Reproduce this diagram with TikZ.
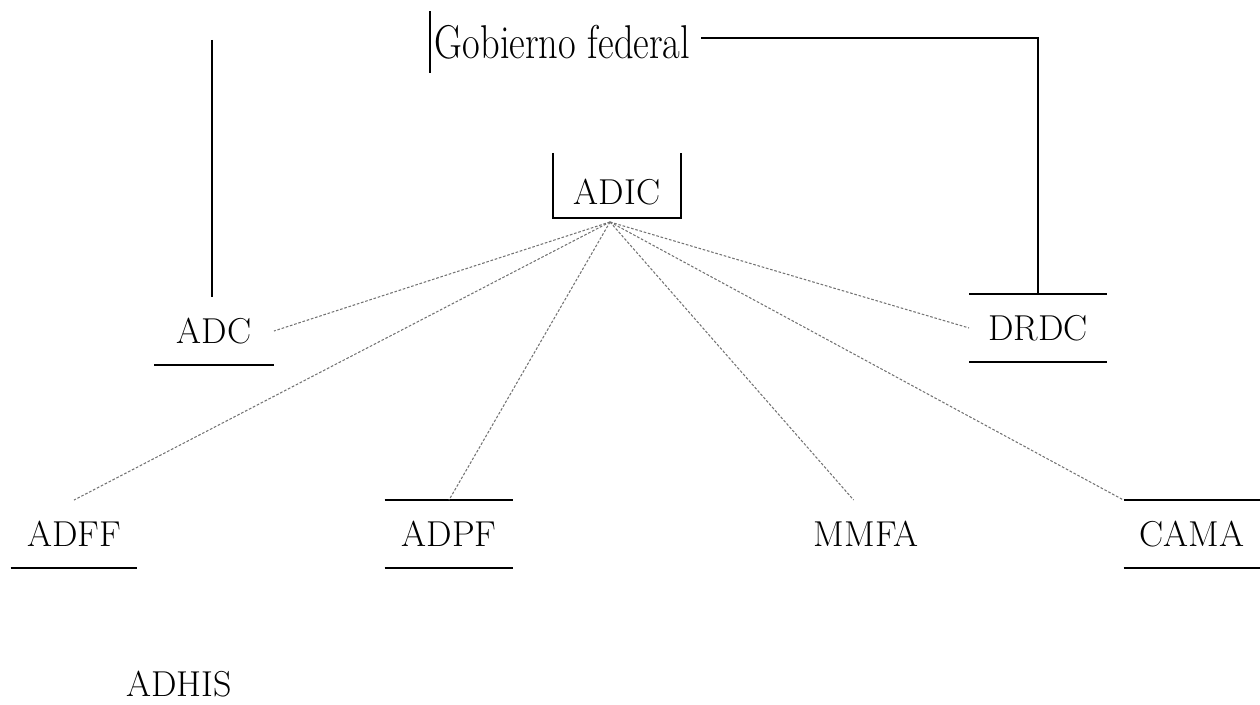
\documentclass[tikz,border=0pt]{standalone}
\usepackage{graphicx}
\usetikzlibrary{calc}

\begin{document}
\begin{tikzpicture}[x=0.02cm,y=0.02cm,line width=1.1pt,
  unit/.style={inner sep=0pt,minimum height=1.32cm,font=\fontsize{20.5}{24}\selectfont}]

  \tikzstyle{link} = [draw,line width=0.6pt,gray!90!black,dash pattern=on 1.5pt off 1pt]

  \useasboundingbox (0,0) rectangle (1260,704);

  \node[unit,minimum height=1.2cm,inner xsep=0.08cm,anchor=west,font=\fontsize{27}{30}\selectfont] (gob) at (430,662) {\scalebox{0.81}[1]{Gobierno federal}};
  \node[unit,minimum width=2.52cm,minimum height=1cm] (adic) at (617,512) {ADIC};
  \node[unit,minimum width=2.36cm] (adc) at (214,373) {ADC};
  \node[unit,minimum width=2.72cm] (drdc) at (1038,376) {DRDC};
  \node[unit,minimum width=2.5cm] (adff) at (74,170) {ADFF};
  \node[unit,minimum width=2.54cm] (adpf) at (449,170) {ADPF};
  \node[unit,minimum width=2.3cm] (mmfa) at (866,170) {MMFA};
  \node[unit,minimum width=2.7cm] (cama) at (1192,170) {CAMA};
  \node[unit,minimum height=0pt] (adhis) at (179,20) {ADHIS};

  \coordinate (adctop) at (212,664);
  \coordinate (hub) at (610,482);

  \draw (gob.north west) -- (gob.south west);
  \draw ([xshift=0.12cm,yshift=0.08cm]gob.east) -| (drdc.north);
  \draw (adic.south west) ++(0,65) -- (adic.south west) -- (adic.south east) -- ++(0,65);
  \draw (adctop) -- (adctop |- adc.north);
  \draw (adc.south west) -- (adc.south east);
  \draw (drdc.north west) -- (drdc.north east) (drdc.south west) -- (drdc.south east);
  \draw (adff.south west) -- (adff.south east);
  \draw (adpf.north west) -- (adpf.north east) (adpf.south west) -- (adpf.south east);
  \draw (cama.north west) -- (cama.north east) (cama.south west) -- (cama.south east);

  \path[link] (hub) edge (adc.east)
    edge (adff.north)
    edge (adpf.north)
    edge (mmfa.110)
    edge (cama.north west)
    edge (drdc.west);
\end{tikzpicture}
\end{document}
